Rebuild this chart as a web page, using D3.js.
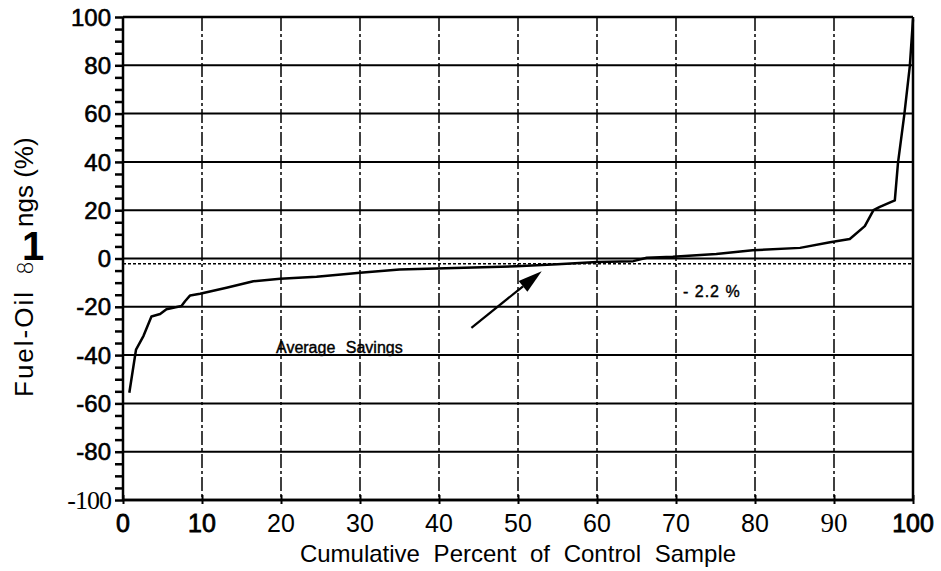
<!DOCTYPE html>
<html>
<head>
  <meta charset="utf-8"/>
  <title>Fuel-Oil Savings</title>
  <style>
    body { margin: 0; background: #fff; }
    text { font-family: "Liberation Sans", Arial, sans-serif; fill: #000; }
  </style>
</head>
<body>
    <div id="graph"></div>
</body>
<script src="https://cdnjs.cloudflare.com/ajax/libs/d3/7.8.5/d3.min.js"></script>

<script>
    // curve: cumulative percent of control sample vs fuel-oil savings (%)
    var cumPct  = [0.8, 1.65, 2.6, 3.6, 4.7, 5.5, 7.4, 7.85, 8.5, 9.75, 13.1, 16.5, 19.9, 24.5, 30, 35, 42, 49.8, 55, 60, 64.6, 66.3, 69.6, 75.1, 79.7, 85.7, 89.5, 92, 93.9, 95, 95.8, 97.7, 98.1, 98.9, 99.6, 100];
    var savings = [-55.6, -37.7, -32, -24, -23, -21, -19.7, -17.7, -15.3, -14.6, -12.1, -9.4, -8.4, -7.6, -5.9, -4.6, -3.9, -3.2, -2.4, -1.5, -1.1, 0.3, 0.7, 1.9, 3.4, 4.4, 6.7, 8.1, 13.4, 20, 21.4, 24.1, 39.6, 59.6, 79.8, 99];
    var xTicks = [0, 10, 20, 30, 40, 50, 60, 70, 80, 90, 100];
    var yTicks = [-100, -80, -60, -40, -20, 0, 20, 40, 60, 80, 100];
    var avgSavings = -2.2;
    // arrow annotation, from tail to tip, in data units
    var arrowX = [44.1, 53];
    var arrowY = [-28.7, -5.3];

    var margin = {top: 17, right: 28, bottom: 71, left: 123},
    width = 941 - margin.left - margin.right,
    height = 571 - margin.top - margin.bottom;

    var x = d3.scaleLinear().domain([0, 100]).range([0, width]);
    var y = d3.scaleLinear().domain([-100, 100]).range([height, 0]);

    var root = d3.select("#graph").append("svg")
                .attr("width", 941)
                .attr("height", 571);
    var svg = root.append("g")
                .attr("transform", "translate(" + margin.left + "," + margin.top + ")");

    // horizontal grid every 20
    svg.selectAll(".hgrid").data(yTicks).enter().append("line")
        .attr("class", "hgrid")
        .attr("x1", 0).attr("x2", width)
        .attr("y1", function(d) { return y(d); })
        .attr("y2", function(d) { return y(d); })
        .style("stroke", "#000")
        .style("stroke-width", function(d) { return (d == 100 || d == -100) ? 2.5 : 2; });

    // vertical grid every 10, dash-dot
    svg.selectAll(".vgrid").data(xTicks.filter(function(d){ return d > 0 && d < 100; })).enter().append("line")
        .attr("class", "vgrid")
        .attr("y1", 0).attr("y2", height)
        .attr("x1", function(d) { return x(d); })
        .attr("x2", function(d) { return x(d); })
        .style("stroke", "#000")
        .style("stroke-width", 1.5)
        .style("stroke-dasharray", "14,3,3,3");

    // right border
    svg.append("line")
        .attr("x1", x(100)).attr("x2", x(100))
        .attr("y1", 0).attr("y2", height)
        .style("stroke", "#000").style("stroke-width", 2.5);

    // average savings dotted line
    svg.append("line")
        .attr("x1", 0).attr("x2", width)
        .attr("y1", y(avgSavings)).attr("y2", y(avgSavings))
        .style("stroke", "#000")
        .style("stroke-width", 1.6)
        .style("stroke-dasharray", "3,2");

    // y axis with minor ticks
    var yAxis = svg.append("g")
        .attr("class", "axis")
        .call(d3.axisLeft(y).tickValues(d3.range(-100, 101, 5)).tickSize(8).tickFormat(""));
    yAxis.select(".domain").style("stroke-width", 2.5).attr("d", "M0," + height + "V0");
    yAxis.selectAll(".tick line").style("stroke-width", 2.5);

    // y tick labels
    svg.selectAll(".ylab").data(yTicks).enter().append("text")
        .attr("class", "ylab")
        .attr("x", -12)
        .attr("y", function(d) { return y(d); })
        .attr("dy", "0.36em")
        .attr("text-anchor", "end")
        .style("font-size", function(d) { return d == -100 ? "26px" : "24px"; })
        .style("font-family", function(d) { return d == -100 ? "'Liberation Serif', 'Times New Roman', serif" : null; })
        .style("stroke", "#000")
        .style("stroke-width", function(d) { return d == -100 ? 0 : 0.6; })
        .style("letter-spacing", function(d) { return d == -100 ? "-1px" : "0px"; })
        .text(function(d) { return d; });

    // x axis
    var xAxis = svg.append("g")
        .attr("class", "axis")
        .attr("transform", "translate(0," + height + ")")
        .call(d3.axisBottom(x).tickValues(xTicks).tickSize(4).tickFormat(""));
    xAxis.select(".domain").style("stroke-width", 2.5).attr("d", "M0,0H" + width);
    xAxis.selectAll(".tick line").style("stroke-width", 2).attr("y1", -5);

    svg.selectAll(".xlab").data(xTicks).enter().append("text")
        .attr("class", "xlab")
        .attr("x", function(d) { return x(d); })
        .attr("y", height + 32)
        .attr("text-anchor", "middle")
        .style("font-size", function(d) { return (d == 90) ? "27px" : "25px"; })
        .style("font-family", function(d) { return d == 90 ? "'Liberation Serif', 'Times New Roman', serif" : null; })
        .style("stroke", "#000")
        .style("stroke-width", function(d) { return (d == 0 || d == 10 || d == 100) ? 0.8 : 0; })
        .text(function(d) { return d; });

    // x title
    svg.append("text")
        .attr("x", (x(0) + x(100)) / 2)
        .attr("y", height + 62)
        .attr("text-anchor", "middle")
        .style("font-size", "24px")
        .style("word-spacing", "7px")
        .text("Cumulative Percent of Control Sample");

    // y title (as scanned: "Fuel-Oil 8 1ngs (%)")
    var yt = root.append("text")
        .attr("transform", "translate(33,397) rotate(-90)")
        .style("font-size", "26px")
        .style("letter-spacing", "2px");
    yt.append("tspan").attr("x", 0).attr("y", 0).text("Fuel-Oil ");
    yt.append("tspan").attr("x", 122).attr("y", 0)
        .style("font-size", "22px").style("font-family", "'DejaVu Sans', sans-serif")
        .style("font-weight", "200").style("letter-spacing", "0px").text("8");
    yt.append("tspan").attr("x", 137).attr("y", -11).attr("rotate", 90)
        .style("font-size", "40px").style("font-weight", "bold").style("letter-spacing", "0px").text("1");
    yt.append("tspan").attr("x", 170).attr("y", 0).style("letter-spacing", "0px").text("ngs (%)");

    // curve
    var line = d3.line()
        .x(function(d, i) { return x(cumPct[i]); })
        .y(function(d, i) { return y(savings[i]); });
    svg.append("path")
        .datum(savings)
        .attr("d", line)
        .style("fill", "none")
        .style("stroke", "#000")
        .style("stroke-width", 2.5)
        .style("stroke-linejoin", "round");

    // annotations
    svg.append("text")
        .attr("x", 276 - margin.left)
        .attr("y", 353 - margin.top)
        .style("font-size", "16px")
        .style("word-spacing", "6px")
        .style("stroke", "#000").style("stroke-width", 0.4)
        .text("Average Savings");

    svg.append("text")
        .attr("x", 683 - margin.left)
        .attr("y", 297 - margin.top)
        .style("font-size", "16px")
        .style("letter-spacing", "1px")
        .style("stroke", "#000").style("stroke-width", 0.4)
        .text("- 2.2 %");

    // arrow
    var ax1 = x(arrowX[0]), ay1 = y(arrowY[0]), ax2 = x(arrowX[1]), ay2 = y(arrowY[1]);
    var ang = Math.atan2(ay2 - ay1, ax2 - ax1), hl = 24, hw = 7;
    var bx = ax2 - hl * Math.cos(ang), by = ay2 - hl * Math.sin(ang);
    svg.append("line")
        .attr("x1", ax1).attr("y1", ay1).attr("x2", bx).attr("y2", by)
        .style("stroke", "#000").style("stroke-width", 2.2);
    svg.append("path")
        .attr("d", "M" + ax2 + "," + ay2 +
                   "L" + (bx - hw * Math.sin(ang)) + "," + (by + hw * Math.cos(ang)) +
                   "L" + (bx + hw * Math.sin(ang)) + "," + (by - hw * Math.cos(ang)) + "Z")
        .style("fill", "#000");
</script>
</html>
